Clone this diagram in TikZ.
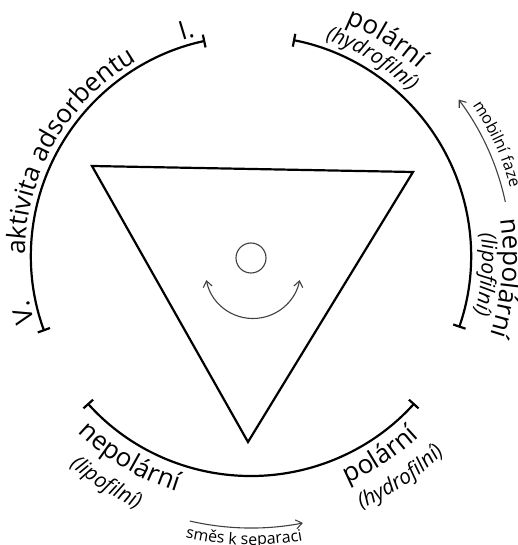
\documentclass[tikz,border=0pt]{standalone}
\usepackage{fontspec}
\setmainfont{Open Sans}
\usepackage{tikz}
\usetikzlibrary{arrows.meta,calc,decorations.text}
\newcommand\ringfont{\fontsize{26}{31}\selectfont}
\newcommand\ringsub{\fontsize{21}{25}\selectfont\itshape}
\newcommand\flowfont{\fontsize{16}{19}\selectfont}

\begin{document}
\begin{tikzpicture}[x=1pt,y=1pt,
    >={Straight Barb[length=6pt,width=9pt]},
    rim/.style={line width=2.2pt, {Bar[width=13pt]}-{Bar[width=13pt]}},
    flow/.style={line width=1.1pt, draw=black!75},
    ringtext/.style={decorate, decoration={text along path, text align=center, text={#1}}}
  ]
  \useasboundingbox (-251,-289) rectangle (266,256);
  \coordinate (hub) at (0,0);
  \coordinate (cornerL) at (-159,90);
  \coordinate (cornerR) at (162,84);
  \coordinate (cornerB) at (-3,-186);
  \coordinate (sample) at (0,-2);
  \coordinate (swirl) at (2,-15);
  % scale arcs
  \draw[rim] (200:220) arc[start angle=200, end angle=102, radius=220];
  \draw[rim] (-19:220) arc[start angle=-19, end angle=79, radius=220];
  \draw[rim] (222:220) arc[start angle=222, end angle=318, radius=220];
  % triangle
  \draw[line width=2.2pt, line join=miter] (cornerL) -- (cornerR) -- (cornerB) -- cycle;
  \draw[flow] (sample) circle[radius=15];
  \draw[flow, <->] ($(swirl)+(191:47.5)$) arc[start angle=191, end angle=349, radius=47.5];
  % left arc labels
  \path[ringtext={|\ringfont|V.}] (206:226) arc[start angle=206, end angle=182, radius=226];
  \path[ringtext={|\ringfont|aktivita adsorbentu}] (200:226) arc[start angle=200, end angle=100, radius=226];
  \path[ringtext={|\ringfont|I.}] (116:226) arc[start angle=116, end angle=96, radius=226];
  % right arc labels
  \path[ringtext={|\ringfont|polární}] (90:251) arc[start angle=90, end angle=26, radius=251];
  \path[ringtext={|\ringsub|(hydrofilní)}] (92:229) arc[start angle=92, end angle=25, radius=229];
  \path[ringtext={|\ringfont|nepolární}] (30:252) arc[start angle=30, end angle=-40, radius=252];
  \path[ringtext={|\ringsub|(lipofilní)}] (25:231) arc[start angle=25, end angle=-34, radius=231];
  \draw[flow, ->] (12:260) arc[start angle=12, end angle=37, radius=260];
  \path[ringtext={|\flowfont|mobilní faze}] (54.5:268) arc[start angle=54.5, end angle=-5.5, radius=268];
  % bottom arc labels
  \path[ringtext={|\ringfont|nepolární}] (209:247) arc[start angle=209, end angle=269, radius=247];
  \path[ringtext={|\ringsub|(lipofilní)}] (207.5:277) arc[start angle=207.5, end angle=267.5, radius=277];
  \path[ringtext={|\ringfont|polární}] (278:247) arc[start angle=278, end angle=328, radius=247];
  \path[ringtext={|\ringsub|(hydrofilní)}] (274:276) arc[start angle=274, end angle=334, radius=276];
  \draw[flow, ->] (257:272) arc[start angle=257, end angle=281, radius=272];
  \path[ringtext={|\flowfont|směs k separaci}] (243.6:289) arc[start angle=243.6, end angle=293.6, radius=289];
\end{tikzpicture}
\end{document}
